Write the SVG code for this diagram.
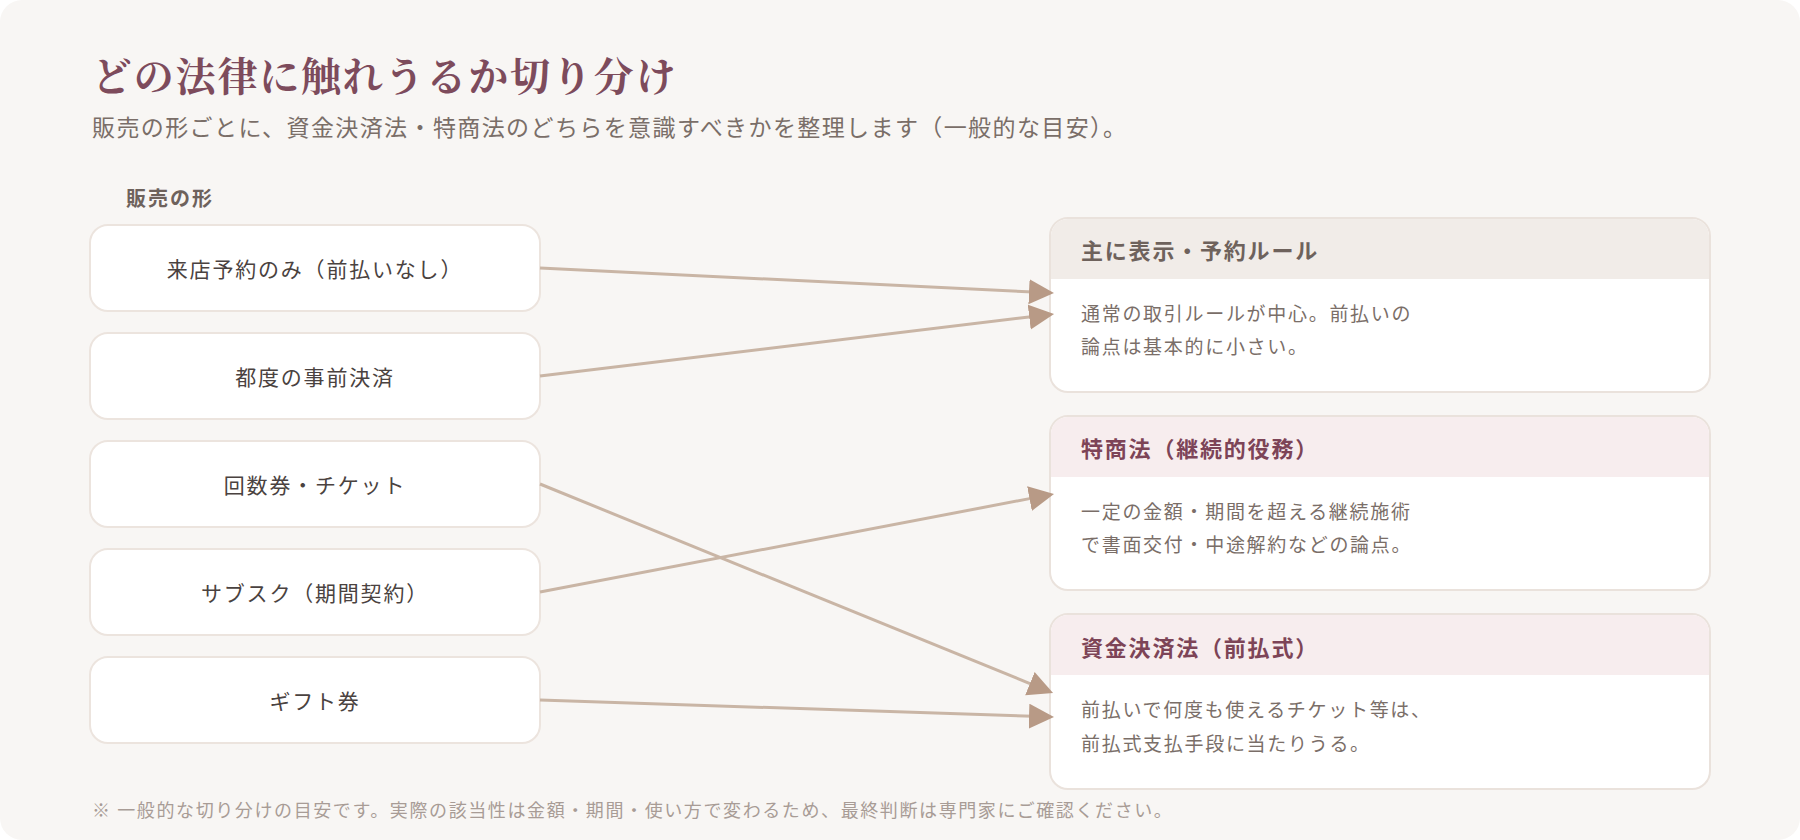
<svg xmlns="http://www.w3.org/2000/svg" width="1800" height="840" viewBox="0 0 1800 840">
  <style>
    .jp { font-family: "Noto Sans CJK JP", "Noto Sans", sans-serif; }
    .title { font-family: "Noto Serif CJK JP", "Noto Sans CJK JP", serif; font-size: 40px; font-weight: 700; fill: #7D4B5C; letter-spacing: 1.8px; }
    .sub { font-size: 23px; fill: #7A6E68; letter-spacing: 1.4px; }
    .colhead { font-size: 20px; font-weight: 700; fill: #6E625C; letter-spacing: 2px; }
    .src rect { fill: #FFFFFF; stroke: #ECE4DE; stroke-width: 2; }
    .src text { font-size: 21px; fill: #4A4240; letter-spacing: 1.8px; text-anchor: middle; }
    .dst .frame { fill: #FFFFFF; stroke: #EAE2DC; stroke-width: 2; }
    .dst .hd-neutral { fill: #F1ECE8; }
    .dst .hd-law { fill: #F7EDEE; }
    .dst .ht { font-size: 22px; font-weight: 700; letter-spacing: 1.8px; }
    .dst .ht-neutral { fill: #6E625C; }
    .dst .ht-law { fill: #7D4457; }
    .dst .bt { font-size: 19px; fill: #7A6E68; letter-spacing: 1.7px; }
    .note { font-size: 18px; fill: #A89C96; letter-spacing: 1.6px; }
    .edge { stroke: #C9B5A5; stroke-width: 3; fill: none; marker-end: url(#arrow); }
  </style>
  <defs>
    <marker id="arrow" markerUnits="userSpaceOnUse" markerWidth="26" markerHeight="26" refX="4" refY="12.5" orient="auto">
      <path d="M0,0 L25,12.5 L0,25 Z" fill="#B89A86"/>
    </marker>
  </defs>

  <rect x="0" y="0" width="1800" height="840" rx="22" fill="#F8F6F4"/>

  <text class="title" x="92" y="73" dominant-baseline="central">どの法律に触れうるか切り分け</text>
  <text class="jp sub" x="92" y="126" dominant-baseline="central">販売の形ごとに、資金決済法・特商法のどちらを意識すべきかを整理します（一般的な目安）。</text>
  <text class="jp colhead" x="126" y="197" dominant-baseline="central">販売の形</text>

  <g id="src-reserve" class="src jp">
    <rect x="90" y="225" width="450" height="86" rx="18"/>
    <text x="315" y="268" dominant-baseline="central">来店予約のみ（前払いなし）</text>
  </g>
  <g id="src-perpay" class="src jp">
    <rect x="90" y="333" width="450" height="86" rx="18"/>
    <text x="315" y="376" dominant-baseline="central">都度の事前決済</text>
  </g>
  <g id="src-ticket" class="src jp">
    <rect x="90" y="441" width="450" height="86" rx="18"/>
    <text x="315" y="484" dominant-baseline="central">回数券・チケット</text>
  </g>
  <g id="src-subsc" class="src jp">
    <rect x="90" y="549" width="450" height="86" rx="18"/>
    <text x="315" y="592" dominant-baseline="central">サブスク（期間契約）</text>
  </g>
  <g id="src-gift" class="src jp">
    <rect x="90" y="657" width="450" height="86" rx="18"/>
    <text x="315" y="700" dominant-baseline="central">ギフト券</text>
  </g>

  <g id="dst-general" class="dst jp">
    <rect class="frame" x="1050" y="218" width="660" height="174" rx="18"/>
    <path class="hd-neutral" d="M1051,279 V236 A17,17 0 0 1 1068,219 H1692 A17,17 0 0 1 1709,236 V279 Z"/>
    <text class="ht ht-neutral" x="1081" y="249" dominant-baseline="central">主に表示・予約ルール</text>
    <text class="bt" x="1081" y="312" dominant-baseline="central">通常の取引ルールが中心。前払いの</text>
    <text class="bt" x="1081" y="345" dominant-baseline="central">論点は基本的に小さい。</text>
  </g>
  <g id="dst-tokusho" class="dst jp">
    <rect class="frame" x="1050" y="416" width="660" height="174" rx="18"/>
    <path class="hd-law" d="M1051,477 V434 A17,17 0 0 1 1068,417 H1692 A17,17 0 0 1 1709,434 V477 Z"/>
    <text class="ht ht-law" x="1081" y="447" dominant-baseline="central">特商法（継続的役務）</text>
    <text class="bt" x="1081" y="510" dominant-baseline="central">一定の金額・期間を超える継続施術</text>
    <text class="bt" x="1081" y="543" dominant-baseline="central">で書面交付・中途解約などの論点。</text>
  </g>
  <g id="dst-shikin" class="dst jp">
    <rect class="frame" x="1050" y="614" width="660" height="175" rx="18"/>
    <path class="hd-law" d="M1051,675 V632 A17,17 0 0 1 1068,615 H1692 A17,17 0 0 1 1709,632 V675 Z"/>
    <text class="ht ht-law" x="1081" y="646" dominant-baseline="central">資金決済法（前払式）</text>
    <text class="bt" x="1081" y="708" dominant-baseline="central">前払いで何度も使えるチケット等は、</text>
    <text class="bt" x="1081" y="742" dominant-baseline="central">前払式支払手段に当たりうる。</text>
  </g>

  <g id="connectors">
    <line class="edge" x1="540" y1="268" x2="1033.0" y2="292.0"/>
    <line class="edge" x1="540" y1="376" x2="1033.2" y2="316.5"/>
    <line class="edge" x1="540" y1="484" x2="1033.6" y2="685.1"/>
    <line class="edge" x1="540" y1="592" x2="1033.4" y2="497.9"/>
    <line class="edge" x1="540" y1="700" x2="1033.0" y2="716.3"/>
  </g>

  <text class="jp note" x="92" y="809" dominant-baseline="central">※ 一般的な切り分けの目安です。実際の該当性は金額・期間・使い方で変わるため、最終判断は専門家にご確認ください。</text>
</svg>
